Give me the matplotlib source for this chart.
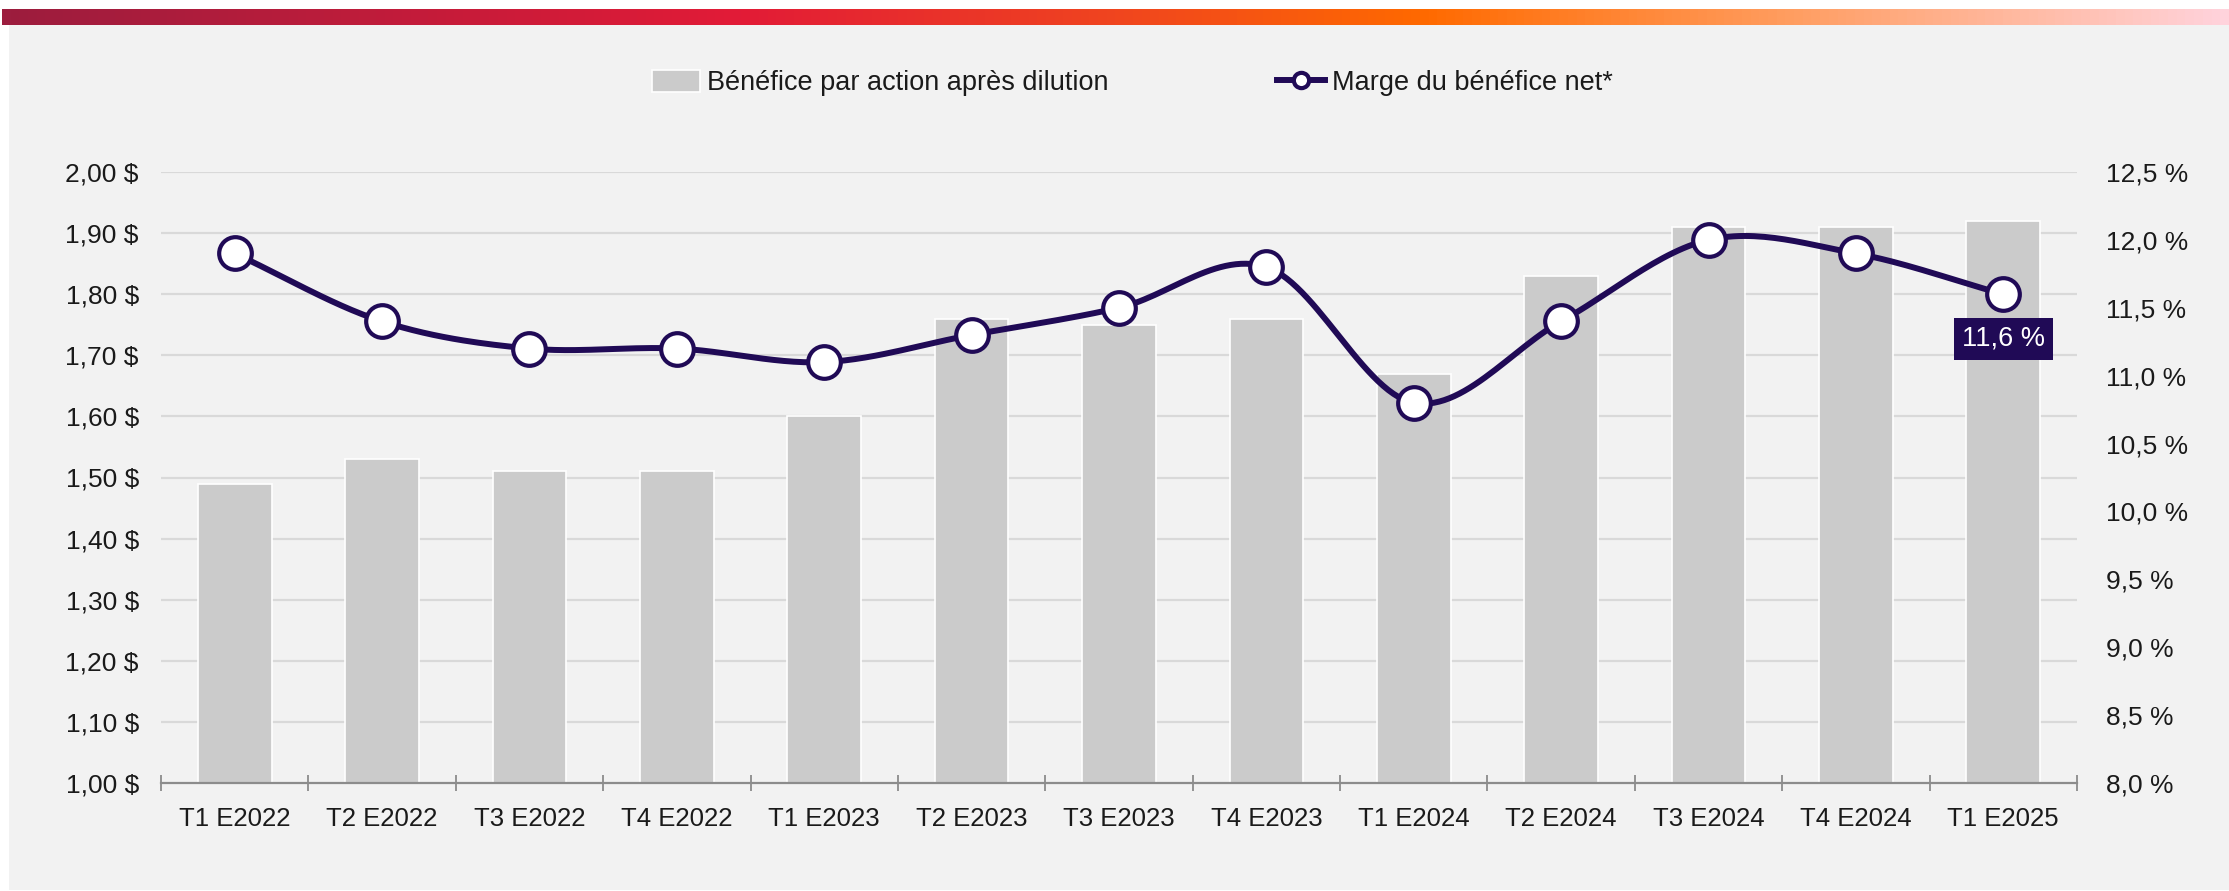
import numpy as np
import matplotlib
matplotlib.use("Agg")
import matplotlib.pyplot as plt
from matplotlib.colors import LinearSegmentedColormap
from matplotlib.lines import Line2D
from matplotlib.patches import Patch

plt.rcParams['font.family'] = ['Liberation Sans', 'DejaVu Sans']

quarters = ["T1 E2022", "T2 E2022", "T3 E2022", "T4 E2022",
            "T1 E2023", "T2 E2023", "T3 E2023", "T4 E2023",
            "T1 E2024", "T2 E2024", "T3 E2024", "T4 E2024", "T1 E2025"]
eps = [1.49, 1.53, 1.51, 1.51, 1.60, 1.76, 1.75, 1.76, 1.67, 1.83, 1.91, 1.91, 1.92]
margin = [11.9, 11.4, 11.2, 11.2, 11.1, 11.3, 11.5, 11.8, 10.8, 11.4, 12.0, 11.9, 11.6]

bar_color = "#cbcbcb"
line_color = "#200a56"
grid_color = "#d9d9d9"
text_color = "#1a1a1a"


def smooth(xs, ys, yscale, n=30):
    # catmull-rom through the points, like Excel's smoothed line
    P = np.column_stack([xs, np.asarray(ys) * yscale])
    P = np.vstack([2 * P[0] - P[1], P, 2 * P[-1] - P[-2]])
    out = []
    for i in range(1, len(P) - 2):
        p0, p1, p2, p3 = P[i - 1], P[i], P[i + 1], P[i + 2]
        t = np.linspace(0, 1, n)[:, None]
        seg = 0.5 * ((2 * p1) + (-p0 + p2) * t + (2 * p0 - 5 * p1 + 4 * p2 - p3) * t ** 2
                     + (-p0 + 3 * p1 - 3 * p2 + p3) * t ** 3)
        out.append(seg if i == 1 else seg[1:])
    out = np.vstack(out)
    return out[:, 0], out[:, 1] / yscale


fig = plt.figure(figsize=(22.29, 8.91), dpi=100, facecolor="white")

# grey panel and gradient strip
bg = fig.add_axes([9 / 2229, 1 / 891, 1 - 9 / 2229, 866 / 891], zorder=-10)
bg.set_facecolor("#f2f2f2")
bg.set_xticks([])
bg.set_yticks([])
for s in bg.spines.values():
    s.set_visible(False)

grad = LinearSegmentedColormap.from_list("strip", [
    (0.0, "#9c1d3e"), (0.33, "#e21b37"), (0.5, "#f0451f"),
    (0.64, "#ff6a00"), (0.8, "#ff9c5e"), (1.0, "#ffd3dc")])
gax = fig.add_axes([2 / 2229, 1 - 25 / 891, 1 - 2 / 2229, 16 / 891])
gax.imshow(np.linspace(0, 1, 512)[None, :], aspect="auto", cmap=grad)
gax.axis("off")

ax = fig.add_axes([161 / 2229, 1 - 783 / 891, (2077 - 161) / 2229, (783 - 172) / 891])
ax.set_facecolor("none")
x = np.arange(len(quarters))
ax.bar(x, eps, width=0.5, color=bar_color, edgecolor="white", linewidth=1.2, zorder=2)
ax.set_xlim(-0.5, len(quarters) - 0.5)
ax.set_ylim(1.0, 2.0)
ax.set_yticks(np.arange(1.0, 2.001, 0.1))
ax.set_yticklabels([f"{v:.2f} $".replace(".", ",") for v in np.arange(1.0, 2.001, 0.1)])
for v in np.arange(1.1, 2.001, 0.1):
    ax.axhline(v, color=grid_color, lw=1.6, zorder=1)
ax.set_xticks(x)
ax.set_xticklabels(quarters)
ax.set_xticks(np.arange(-0.5, len(quarters)), minor=True)
ax.tick_params(axis="x", which="major", length=0, pad=17, labelsize=18.5, colors=text_color)
ax.tick_params(axis="x", which="minor", direction="inout", length=11.5, width=1.3, color="#8c8c8c")
ax.tick_params(axis="y", length=0, pad=16, labelsize=19, colors=text_color)
for s in ["left", "right", "top"]:
    ax.spines[s].set_visible(False)
ax.spines["bottom"].set_color("#8c8c8c")
ax.spines["bottom"].set_linewidth(1.6)
ax.spines["bottom"].set_zorder(3)

ax2 = ax.twinx()
ax2.set_ylim(8.0, 12.5)
ax2.set_yticks(np.arange(8.0, 12.51, 0.5))
ax2.set_yticklabels([f"{v:.1f} %".replace(".", ",") for v in np.arange(8.0, 12.51, 0.5)])
ax2.tick_params(axis="y", length=0, pad=21, labelsize=19, colors=text_color)
for s in ax2.spines.values():
    s.set_visible(False)

sx, sy = smooth(x, margin, 1.0 / 0.92)
ax2.plot(sx, sy, color=line_color, lw=4.3, zorder=4, solid_capstyle="round")
ax2.plot(x, margin, ls="none", marker="o", ms=23.5, mfc="white", mec=line_color, mew=3.0, zorder=5)
ax2.annotate(f"{margin[-1]:.1f} %".replace(".", ","), (x[-1], margin[-1]),
             xytext=(0, -32), textcoords="offset points", ha="center", va="center",
             fontsize=19.5, color="white",
             bbox=dict(boxstyle="square,pad=0.3", fc=line_color, ec="none"), zorder=6)

handles = [Patch(facecolor=bar_color, edgecolor="white", linewidth=1.2),
           Line2D([], [], color=line_color, lw=4.3, marker="o", ms=11, mfc="white",
                  mec=line_color, mew=3.0)]
fig.legend(handles, ["Bénéfice par action après dilution", "Marge du bénéfice net*"],
           loc="center", bbox_to_anchor=(0.508, 1 - 83 / 891), ncol=2, frameon=False,
           fontsize=19.5, handlelength=1.8, handleheight=0.9, handletextpad=0.25,
           columnspacing=6.2, labelcolor=text_color)

fig.savefig("out.png", dpi=100, facecolor="white")
